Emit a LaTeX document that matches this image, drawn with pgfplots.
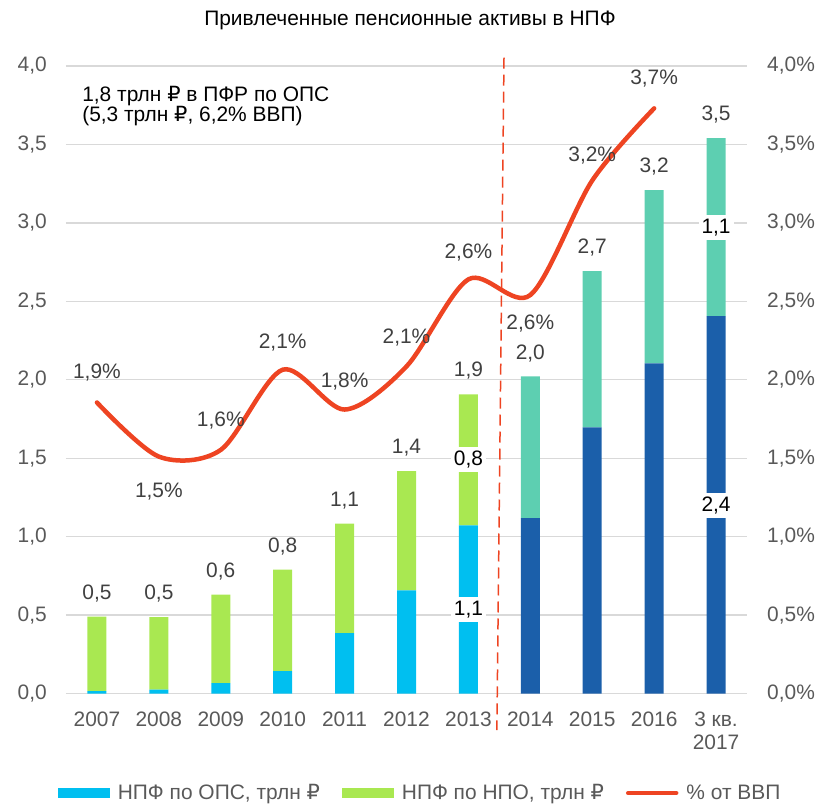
\documentclass[border=0pt]{standalone}
\usepackage{fontspec}
\setmainfont{Liberation Sans}
\newfontfamily\dejavu{DejaVu Sans}
\newcommand{\rub}{{\dejavu ₽}}
\usepackage{pgfplots}
\pgfplotsset{compat=1.18}
\definecolor{opsblue}{HTML}{00BFF0}
\definecolor{npogreen}{HTML}{A9E851}
\definecolor{darkblue}{HTML}{1B5FAA}
\definecolor{tealc}{HTML}{5DCFB1}
\definecolor{linered}{HTML}{EE4422}
\definecolor{gridc}{HTML}{D9D9D9}
\definecolor{tickc}{HTML}{595959}
\definecolor{labc}{HTML}{404040}
\newcommand{\fs}{\fontsize{21}{23}\selectfont}
\tikzset{lab/.style={font=\fs, text=labc}, inlab/.style={font=\fs, text=black, fill=white, inner xsep=3bp, inner ysep=4bp}}
\begin{document}
\begin{tikzpicture}
\pgfplotsset{
  common/.style={
    scale only axis, width=681bp, height=627.5bp,
    xmin=-0.5, xmax=10.5, ymin=0, ymax=4,
    at={(0,0)}, anchor=south west,
    major tick length=0pt,
    axis line style={draw=none},
    ytick={0,0.5,...,4},
    tick label style={font=\fs, text=tickc},
    /pgf/number format/use comma,
    /pgf/number format/fixed,
    /pgf/number format/fixed zerofill,
    /pgf/number format/precision=1,
    /pgf/number format/assume math mode=true,
  }
}
\begin{axis}[common,
  ybar stacked, bar width=19bp,
  ymajorgrids, grid style={gridc, line width=1.3bp},
  xtick={0,...,10},
  xticklabels={2007,2008,2009,2010,2011,2012,2013,2014,2015,2016,{3 кв.\\2017}},
  xticklabel style={align=center, inner sep=0pt, yshift=-18bp},
  yticklabel style={inner sep=0pt, xshift=-19bp},
  clip=false,
]
\addplot[fill=opsblue, draw=none] coordinates {(0,0.015) (1,0.024) (2,0.066) (3,0.142) (4,0.385) (5,0.657) (6,1.072) (7,0) (8,0) (9,0) (10,0)};
\addplot[fill=darkblue, draw=none] coordinates {(0,0) (1,0) (2,0) (3,0) (4,0) (5,0) (6,0) (7,1.118) (8,1.697) (9,2.105) (10,2.405)};
\addplot[fill=npogreen, draw=none] coordinates {(0,0.475) (1,0.463) (2,0.564) (3,0.648) (4,0.698) (5,0.761) (6,0.835) (7,0) (8,0) (9,0) (10,0)};
\addplot[fill=tealc, draw=none] coordinates {(0,0) (1,0) (2,0) (3,0) (4,0) (5,0) (6,0) (7,0.904) (8,0.995) (9,1.104) (10,1.136)};
\node[lab] at (axis cs:0,0.64) {0,5};
\node[lab] at (axis cs:1,0.64) {0,5};
\node[lab] at (axis cs:2,0.78) {0,6};
\node[lab] at (axis cs:3,0.94) {0,8};
\node[lab] at (axis cs:4,1.23) {1,1};
\node[lab] at (axis cs:5,1.57) {1,4};
\node[lab] at (axis cs:6,2.06) {1,9};
\node[lab] at (axis cs:7,2.17) {2,0};
\node[lab] at (axis cs:8,2.84) {2,7};
\node[lab] at (axis cs:9,3.36) {3,2};
\node[lab] at (axis cs:10,3.69) {3,5};
\end{axis}
\begin{axis}[common,
  axis y line*=right, axis x line=none,
  yticklabel style={inner sep=0pt, xshift=20bp},
  yticklabel={\pgfmathprintnumber{\tick}\%},
  clip=false,
  legend style={draw=none, fill=none, legend columns=3, at={(0.52,-0.1586)}, anchor=center,
    font=\fs, text=tickc, inner sep=0pt,
    /tikz/every odd column/.append style={column sep=6bp},
    /tikz/every even column/.append style={column sep=20bp},
    /tikz/column 4/.append style={column sep=13bp},
    /tikz/column 5/.append style={column sep=3bp}},
]
\addlegendimage{fill=opsblue, draw=none, legend image code/.code={\fill[opsblue] (0bp,-5bp) rectangle (52bp,5bp);}}
\addlegendentry{НПФ по ОПС, трлн \rub}
\addlegendimage{fill=npogreen, draw=none, legend image code/.code={\fill[npogreen] (0bp,-5bp) rectangle (52bp,5bp);}}
\addlegendentry{НПФ по НПО, трлн \rub}
\addplot[draw=linered, line width=1.5bp, dash pattern=on 11bp off 6bp, forget plot, mark=none] coordinates {(6.575,4.054) (6.46,-0.233)};
\addplot[color=linered, line width=4.5bp, line cap=round, smooth, mark=none,
  legend image code/.code={\draw[linered, line width=4.5bp, line cap=round] (2bp,0bp) -- (50bp,0bp);}] coordinates {
(0,1.855) (1,1.51) (2,1.553) (3,2.064) (4,1.81) (5,2.085) (6,2.64) (7,2.54) (8,3.27) (9,3.73)};
\addlegendentry{\% от ВВП}
\node[inlab] at (axis cs:6,0.536) {1,1};
\node[inlab] at (axis cs:6,1.49) {0,8};
\node[inlab] at (axis cs:10,1.20) {2,4};
\node[inlab] at (axis cs:10,2.97) {1,1};
\node[lab] at (axis cs:0,2.045) {1,9\%};
\node[lab] at (axis cs:1,1.285) {1,5\%};
\node[lab] at (axis cs:2,1.74) {1,6\%};
\node[lab] at (axis cs:3,2.236) {2,1\%};
\node[lab] at (axis cs:4,1.99) {1,8\%};
\node[lab] at (axis cs:5,2.27) {2,1\%};
\node[lab] at (axis cs:6,2.81) {2,6\%};
\node[lab] at (axis cs:7,2.36) {2,6\%};
\node[lab] at (axis cs:8,3.43) {3,2\%};
\node[lab] at (axis cs:9,3.92) {3,7\%};
\node[font=\fontsize{21}{20}\selectfont, text=black, align=left, anchor=north west, inner sep=0pt] at (axis cs:-0.24,3.87)
  {1,8 трлн \rub{} в ПФР по ОПС\\(5,3 трлн \rub, 6,2\% ВВП)};
\end{axis}
\node[font=\fontsize{21}{23}\selectfont, text=black] at (344bp,673.5bp) {Привлеченные пенсионные активы в НПФ};
\path[use as bounding box] (-66bp,-110.5bp) rectangle (753bp,693.5bp);
\end{tikzpicture}
\end{document}
